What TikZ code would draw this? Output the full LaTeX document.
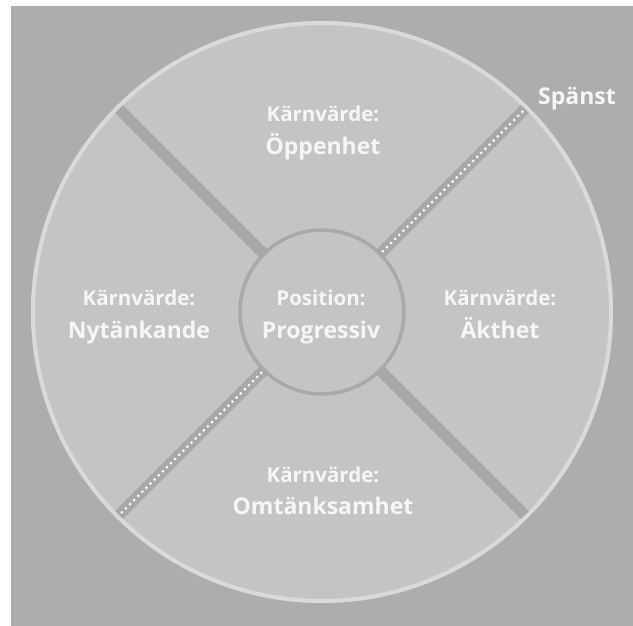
\documentclass[tikz,border=0pt]{standalone}
\usepackage{fontspec}
\setmainfont{Open Sans}
\usetikzlibrary{calc}
\definecolor{bggray}{HTML}{ADADAD}
\definecolor{diskgray}{HTML}{C4C4C4}
\definecolor{rimgray}{HTML}{DADADA}
\definecolor{bandgray}{HTML}{A8A8A8}
\definecolor{hubline}{HTML}{A9A9A9}
\definecolor{labelwhite}{HTML}{F6F6F6}
\tikzset{
  band/.style={draw=bandgray, line width=11pt, line cap=butt},
  dotrow/.style={draw=white, line width=3pt, line cap=round, dash pattern=on 0pt off 5.8pt},
  small/.style={font=\bfseries\fontsize{20.5}{24}\selectfont},
  big/.style={font=\bfseries\fontsize{23}{27}\selectfont},
  caption/.style={text=labelwhite, align=center, inner sep=0pt},
}
\begin{document}
\begin{tikzpicture}[x=1pt, y=-1pt]
  \useasboundingbox (0,0) rectangle (633,626);
  % page and backdrop
  \fill[white] (0,0) rectangle (633,626);
  \fill[bggray] (11,6) rectangle (633,626);
  % outer disk with its light rim
  \coordinate (c) at (322,312);
  \fill[diskgray] (c) circle (291);
  \draw[rimgray, line width=4pt] (c) circle (289);
  % diagonal separators
  \begin{scope}
    \clip (c) circle (287);
    \coordinate (nw1) at ($(c)+(-135:80)$);
    \coordinate (nw2) at ($(c)+(-135:290)$);
    \coordinate (ne1) at ($(c)+(-45:80)$);
    \coordinate (ne2) at ($(c)+(-45:290)$);
    \coordinate (se1) at ($(c)+(45:80)$);
    \coordinate (se2) at ($(c)+(45:290)$);
    \coordinate (sw1) at ($(c)+(135:80)$);
    \coordinate (sw2) at ($(c)+(135:290)$);
    \draw[band] (nw1) -- (nw2);
    \draw[band] (se1) -- (se2);
    \draw[band] (ne1) -- (ne2);
    \draw[band] (sw1) -- (sw2);
    \coordinate (ned1) at ($(c)+(-45:86)$);
    \coordinate (ned2) at ($(c)+(-45:284)$);
    \coordinate (swd1) at ($(c)+(135:86)$);
    \coordinate (swd2) at ($(c)+(135:284)$);
    \draw[dotrow] (ned1) -- (ned2);
    \draw[dotrow] (swd1) -- (swd2);
  \end{scope}
  % hub
  \node[circle, fill=diskgray, draw=hubline, line width=3.5pt, minimum size=164pt, inner sep=0pt] (hub) at (c) {};
  % labels
  \node[caption, small, anchor=base] (t1) at (323,122) {Kärnvärde:};
  \node[caption, big, anchor=base] (t2) at (323,154) {Öppenhet};
  \node[caption, small, anchor=base] (l1) at (139,305) {Kärnvärde:};
  \node[caption, big, anchor=base] (l2) at (139,338) {Nytänkande};
  \node[caption, small, anchor=base] (h1) at (321,305) {Position:};
  \node[caption, big, anchor=base] (h2) at (321,338) {Progressiv};
  \node[caption, small, anchor=base] (r1) at (500,305) {Kärnvärde:};
  \node[caption, big, anchor=base] (r2) at (500,338) {Äkthet};
  \node[caption, small, anchor=base] (b1) at (323,482) {Kärnvärde:};
  \node[caption, big, anchor=base] (b2) at (323,514) {Omtänksamhet};
  \node[caption, big, anchor=base] (sp) at (577,105) {Spänst};
\end{tikzpicture}
\end{document}
